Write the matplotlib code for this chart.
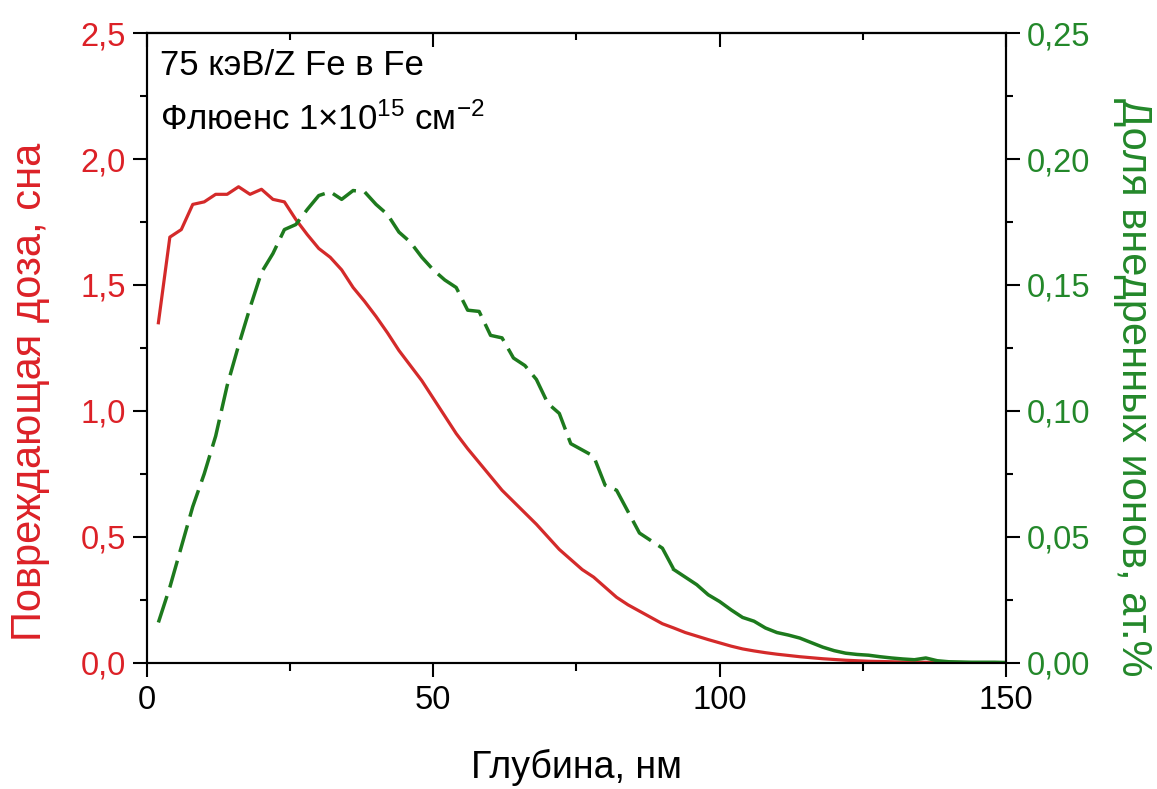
import numpy as np
import matplotlib
matplotlib.use('Agg')
import matplotlib.pyplot as plt
from matplotlib.ticker import MultipleLocator, FuncFormatter

# depth, nm (2 nm step)
depth = np.arange(2, 152, 2)

# damage dose, dpa (left axis, red)
dose = [1.35, 1.69, 1.72, 1.82, 1.83, 1.86, 1.86, 1.89, 1.86, 1.88,
        1.84, 1.83, 1.76, 1.70, 1.645, 1.61, 1.56, 1.49, 1.435, 1.375,
        1.31, 1.24, 1.18, 1.12, 1.05, 0.98, 0.91, 0.85, 0.795, 0.74,
        0.685, 0.64, 0.595, 0.55, 0.50, 0.45, 0.41, 0.37, 0.34, 0.30,
        0.26, 0.23, 0.205, 0.18, 0.155, 0.138, 0.12, 0.106, 0.092, 0.079,
        0.066, 0.055, 0.047, 0.040, 0.034, 0.029, 0.024, 0.020, 0.016, 0.013,
        0.010, 0.008, 0.006, 0.005, 0.004, 0.003, 0.003, 0.002, 0.002, 0.001,
        0.001, 0.0, 0.0, 0.0, 0.0]

# implanted ion fraction, at.% (right axis, green)
ions = [0.016, 0.030, 0.046, 0.062, 0.075, 0.090, 0.110, 0.126, 0.141, 0.155,
        0.1625, 0.172, 0.174, 0.180, 0.1855, 0.187, 0.184, 0.1875, 0.187, 0.182,
        0.178, 0.171, 0.167, 0.161, 0.156, 0.152, 0.149, 0.140, 0.1395, 0.130,
        0.129, 0.121, 0.118, 0.1125, 0.103, 0.099, 0.087, 0.0845, 0.082, 0.0705,
        0.0685, 0.060, 0.0515, 0.0485, 0.0455, 0.037, 0.034, 0.031, 0.027, 0.0243,
        0.021, 0.018, 0.0165, 0.0138, 0.012, 0.011, 0.0098, 0.008, 0.0062, 0.0048,
        0.0038, 0.0033, 0.003, 0.0024, 0.0019, 0.0015, 0.0012, 0.0019, 0.0008, 0.0004,
        0.0003, 0.0002, 0.0002, 0.0002, 0.0001]

dash_end = 92  # green curve drawn dashed up to this depth, solid after

RED = '#d42a2a'
RED_TXT = '#dc2127'
GREEN = '#1d7a1d'
GREEN_TXT = '#23882a'

plt.rcParams['font.family'] = ['Liberation Sans', 'DejaVu Sans']
plt.rcParams['mathtext.default'] = 'regular'
plt.rcParams['axes.linewidth'] = 1.5

def comma_fmt(nd):
    return FuncFormatter(lambda v, p: '{:.{}f}'.format(v, nd).replace('.', ','))

fig = plt.figure(figsize=(11.57, 7.89), dpi=100)
ax = fig.add_axes([0.127, 0.16, 0.7425, 0.798])
ax2 = ax.twinx()

ax.plot(depth, dose, color=RED, lw=2.3, solid_joinstyle='round')

depth = np.asarray(depth)
ions = np.asarray(ions)
m1 = depth <= dash_end
m2 = depth >= dash_end
ax2.plot(depth[m1], ions[m1], color=GREEN, lw=2.5, ls=(0, (8.0, 2.6)))
ax2.plot(depth[m2], ions[m2], color=GREEN, lw=2.5)

ax.set_xlim(0, 150)
ax.set_ylim(0, 2.5)
ax2.set_ylim(0, 0.25)

ax.xaxis.set_major_locator(MultipleLocator(50))
ax.xaxis.set_minor_locator(MultipleLocator(25))
ax.yaxis.set_major_locator(MultipleLocator(0.5))
ax.yaxis.set_minor_locator(MultipleLocator(0.25))
ax2.yaxis.set_major_locator(MultipleLocator(0.05))
ax2.yaxis.set_minor_locator(MultipleLocator(0.025))
ax.yaxis.set_major_formatter(comma_fmt(1))
ax2.yaxis.set_major_formatter(comma_fmt(2))

ax.tick_params(axis='x', which='major', direction='out', length=10, width=1.5,
               labelsize=23.5, pad=6, top=False)
ax.tick_params(axis='x', which='minor', direction='out', length=6, width=1.5, top=False)
ax.tick_params(axis='y', which='major', direction='out', length=10, width=1.5,
               labelsize=23.5, pad=5, labelcolor=RED_TXT, right=False)
ax.tick_params(axis='y', which='minor', direction='out', length=5, width=1.5, right=False)
ax2.tick_params(axis='y', which='major', direction='out', length=10, width=1.5,
                labelsize=23.5, pad=5, labelcolor=GREEN_TXT)
ax2.tick_params(axis='y', which='minor', direction='out', length=5, width=1.5)

top = ax.secondary_xaxis('top')
top.xaxis.set_major_locator(MultipleLocator(50))
top.xaxis.set_minor_locator(MultipleLocator(25))
top.tick_params(which='major', direction='in', length=10, width=1.5, labeltop=False)
top.tick_params(which='minor', direction='in', length=5, width=1.5)

ax.set_xlabel('Глубина, нм', fontsize=27)
ax.xaxis.set_label_coords(0.5, -0.137)
ax.set_ylabel('Повреждающая доза, сна', fontsize=30, color=RED_TXT)
ax.yaxis.set_label_coords(-0.113, 0.43)
ax2.set_ylabel('Доля внедренных ионов, ат.%', fontsize=30, color=GREEN_TXT,
               rotation=270, va='center')
ax2.yaxis.set_label_coords(1.148, 0.437)

ax.text(0.015, 0.933, '75 кэВ/Z Fe в Fe', transform=ax.transAxes,
        fontsize=25, va='baseline', ha='left')
ax.text(0.015, 0.846, 'Флюенс 1×10$^{15}$ см$^{-2}$', transform=ax.transAxes,
        fontsize=25, va='baseline', ha='left')

fig.savefig('out.png', dpi=100)
